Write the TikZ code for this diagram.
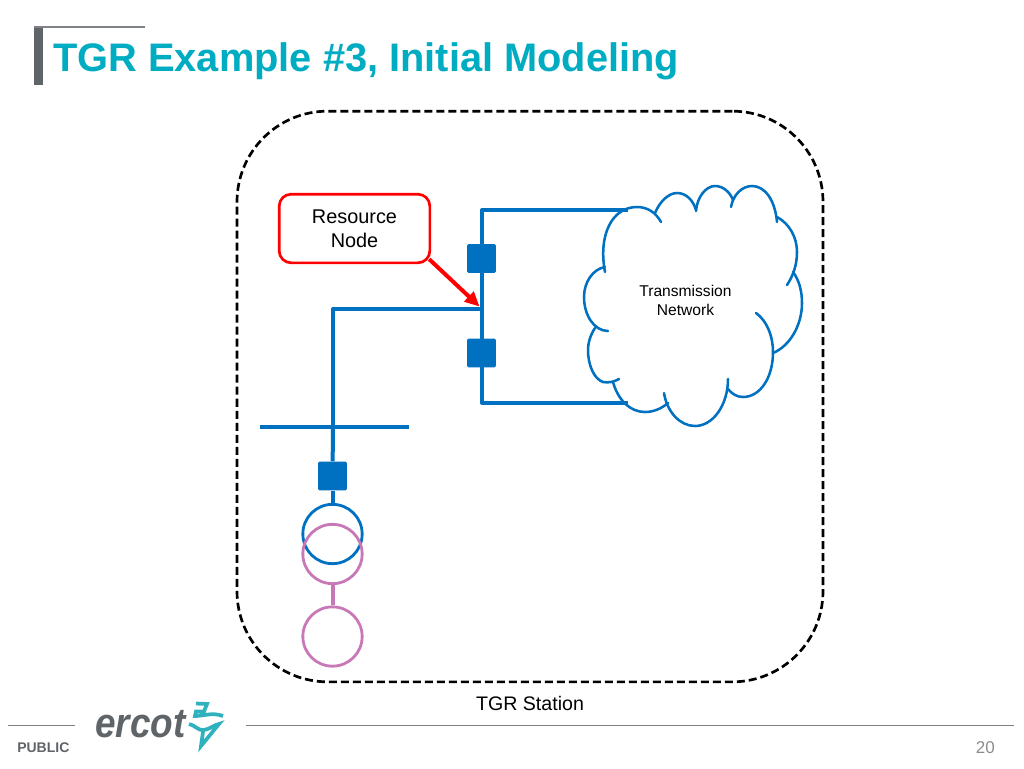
\documentclass[tikz,border=0pt]{standalone}
\usepackage{fontspec}
\setmainfont{Liberation Sans}
\usetikzlibrary{arrows.meta}
\definecolor{lineblue}{HTML}{0070C0}
\definecolor{relaypink}{HTML}{C878B6}
\definecolor{titleteal}{HTML}{00ACC1}
\definecolor{logoteal}{HTML}{2FB1BE}
\definecolor{framegray}{HTML}{5F6469}
\tikzset{
  wire/.style={draw=lineblue,line width=3pt,line join=round},
  cloudpart/.style={draw=lineblue,line width=1.9pt,line cap=round},
  breaker/.style={fill=lineblue,minimum size=21.5pt,inner sep=0pt,rounded corners=1pt},
  relay/.style={circle,draw=#1,line width=2.1pt,minimum size=44.5pt,inner sep=0pt},
  label/.style={align=center,text=black,inner sep=0pt},
  logostroke/.style={draw=logoteal,line width=2.8pt,line join=miter}
}
\begin{document}
\begin{tikzpicture}[x=0.75pt,y=-0.75pt]
  \useasboundingbox (0,0) rectangle (1024,768);
  % header
  \fill[framegray] (34,27) rectangle (43,85);
  \draw[framegray!80,line width=0.8pt] (34,27) -- (145,27);
  \node[anchor=west,inner sep=0pt,text=titleteal,font=\fontsize{29.85}{36}\selectfont\bfseries] (title) at (53,61) {TGR Example \#3, Initial Modeling};
  % footer
  \draw[gray,line width=0.6pt] (8,725) -- (75,725);
  \draw[gray,line width=0.6pt] (246,725) -- (1014,725);
  \node[anchor=west,inner sep=0pt,text=framegray,font=\fontsize{10.5}{12}\selectfont\bfseries] (public) at (17,748) {PUBLIC};
  \node[anchor=east,inner sep=0pt,text=gray!90,font=\fontsize{12.8}{15}\selectfont] (page) at (995,748) {20};
  \node[anchor=base west,inner sep=0pt,text=framegray,xscale=.71,yscale=.8,font=\fontsize{39}{40}\selectfont\bfseries\itshape] (logo) at (95,737) {ercot};
  \draw[logostroke] (196,703.5) -- (207,704) -- (204,711.5) -- (196,711.5) -- (195,716) .. controls (204,716) and (212,712) .. (223,716);
  \draw[logostroke] (189,724) .. controls (195,725) and (198,731) .. (204,730) .. controls (210,729) and (214,725) .. (219,724) -- (201,746) -- (203,732);
  % station boundary
  \node[draw,dash pattern=on 6pt off 3pt,line width=2pt,rounded corners=68pt,minimum width=439.5pt,minimum height=428pt,inner sep=0pt] (station) at (530,396.5) {};
  \node[label,font=\fontsize{14.7}{18}\selectfont] (stationlabel) at (530,703.5) {TGR Station};
  % transmission network
  \coordinate (cloudtop) at (628,210);
  \coordinate (cloudbot) at (628,403);
  \draw[wire] (cloudtop) -- (482,210) -- (482,403) -- (cloudbot);
  \draw[cloudpart] (605,272) .. controls (598,235) and (612,207) .. (637,207) .. controls (648,207) and (656,213) .. (661,222);
  \draw[cloudpart] (655,213) .. controls (660,201) and (669,193) .. (677,193) .. controls (686,193) and (693,200) .. (696,210);
  \draw[cloudpart] (696,211) .. controls (697,197) and (706,186) .. (715,186) .. controls (723,186) and (730,192) .. (733,200);
  \draw[cloudpart] (731,207) .. controls (733,195) and (742,186) .. (752,186) .. controls (765,186) and (775,200) .. (777,222);
  \draw[cloudpart] (777,217) .. controls (790,224) and (797,238) .. (797,252) .. controls (797,265) and (793,276) .. (787,285);
  \draw[cloudpart] (793,272) .. controls (799,280) and (802,291) .. (802,303) .. controls (802,325) and (790,346) .. (773,353);
  \draw[cloudpart] (756,313) .. controls (767,321) and (773,336) .. (773,352) .. controls (773,378) and (760,397) .. (743,397) .. controls (737,397) and (732,394) .. (728,389);
  \draw[cloudpart] (728,379) .. controls (728,405) and (713,426) .. (695,426) .. controls (680,426) and (667,412) .. (664,393);
  \draw[cloudpart] (668,403) .. controls (661,409) and (653,412) .. (645,412) .. controls (630,412) and (618,400) .. (613,382);
  \draw[cloudpart] (619,379) .. controls (614,382) and (608,383) .. (603,382) .. controls (594,379) and (588,365) .. (588,350) .. controls (588,342) and (591,334) .. (595,328);
  \draw[cloudpart] (608,331) .. controls (594,331) and (584,315) .. (584,297) .. controls (584,282) and (593,269) .. (605,267);
  \node[label,font=\fontsize{11.7}{14.3}\selectfont] (network) at (685.5,300) {Transmission\\Network};
  % feeder and bus
  \node[breaker] (brtop) at (481.5,258.5) {};
  \node[breaker] (brbot) at (481.5,353) {};
  \coordinate (tap) at (482,309);
  \coordinate (buswest) at (260,426.5);
  \coordinate (buseast) at (409,426.5);
  \node[breaker] (brgen) at (332.5,476) {};
  \draw[wire] (tap) -- (333,309) -- (333,426.5);
  \draw[wire] (buswest) -- (buseast);
  \draw[wire] (333,426.5) -- (brgen);
  \node[relay=lineblue] (gena) at (332.5,534) {};
  \node[relay=relaypink] (genb) at (332.5,554) {};
  \node[relay=relaypink] (genc) at (332.5,636.5) {};
  \draw[wire] (brgen) -- (gena);
  \draw[draw=relaypink,line width=3pt] (genb) -- (genc);
  % resource node callout
  \node[draw=red,line width=2pt,rounded corners=9pt,minimum width=113pt,minimum height=51.5pt,inner sep=0pt,align=center,font=\fontsize{14.9}{18}\selectfont] (resource) at (354.5,228.5) {Resource\\Node};
  \coordinate (tip) at (479.5,306.5);
  \draw[red,line width=3pt,-{Triangle[length=11pt,width=10pt]}] (resource.south east) ++(-2,-5) -- (tip);
\end{tikzpicture}
\end{document}
